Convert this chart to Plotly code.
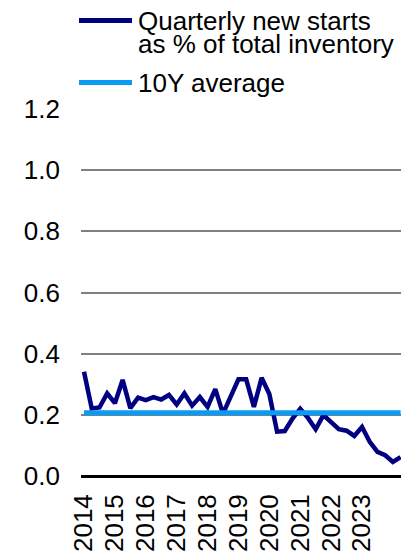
import plotly.graph_objects as go

# Quarterly periods 2014Q1 .. 2024Q2
years = list(range(2014, 2025))
quarters = [f"{y}Q{q}" for y in years for q in range(1, 5)][:42]

# Quarterly new starts as % of total inventory
new_starts = [
    0.341, 0.221, 0.224, 0.270, 0.238, 0.314, 0.222, 0.256,
    0.248, 0.258, 0.250, 0.265, 0.234, 0.270, 0.230, 0.258,
    0.226, 0.284, 0.204, 0.260, 0.316, 0.316, 0.226, 0.321,
    0.268, 0.145, 0.147, 0.188, 0.220, 0.190, 0.153, 0.199,
    0.177, 0.153, 0.148, 0.131, 0.160, 0.112, 0.079, 0.068,
    0.046, 0.062,
]
ten_year_avg = 0.207

tick_years = [str(y) for y in range(2014, 2024)]
tick_quarters = [f"{y}Q1" for y in tick_years]
y_ticks = [0.0, 0.2, 0.4, 0.6, 0.8, 1.0, 1.2]

NAVY = "#000080"
SKY = "#0A9BF5"
FONT = "Liberation Sans, Arial, sans-serif"

W, H = 401, 552
L, R, T, B = 81, 0, 108.5, 76
plot_h = H - T - B
plot_w = W - L - R


def px_x(px):
    return (px - L) / plot_w


def px_y(py):
    return (H - B - py) / plot_h


fig = go.Figure()
fig.add_trace(go.Scatter(
    x=quarters, y=new_starts, mode="lines",
    line=dict(color=NAVY, width=4.5), name="Quarterly new starts",
    showlegend=False,
))
fig.add_trace(go.Scatter(
    x=quarters, y=[ten_year_avg] * len(quarters), mode="lines",
    line=dict(color=SKY, width=5), name="10Y average", showlegend=False,
))

# Legend drawn above the plot
legend_items = [
    (NAVY, 20, ["Quarterly new starts", "as % of total inventory"]),
    (SKY, 82, ["10Y average"]),
]
for color, py, lines in legend_items:
    fig.add_shape(type="line", xref="paper", yref="paper",
                  x0=px_x(79), x1=px_x(132), y0=px_y(py), y1=px_y(py),
                  line=dict(color=color, width=5))
    for k, txt in enumerate(lines):
        fig.add_annotation(xref="paper", yref="paper", x=px_x(136),
                           y=px_y(py + 23 * k), text=txt, showarrow=False,
                           xanchor="left", yanchor="middle",
                           font=dict(size=26, color="black", family=FONT))

fig.update_layout(
    width=W, height=H,
    margin=dict(l=L, r=R, t=T, b=B, pad=0),
    paper_bgcolor="white", plot_bgcolor="white",
    font=dict(family=FONT, size=26, color="black"),
    showlegend=False,
)
fig.update_xaxes(
    type="category", range=[-0.39, 41.05],
    tickmode="array", tickvals=tick_quarters, ticktext=tick_years,
    tickangle=-90, showgrid=False, showline=False, zeroline=False,
    ticks="", ticklabelstandoff=12,
    tickfont=dict(size=26, family=FONT, color="black"),
)
fig.update_yaxes(
    range=[0, 1.2], tickmode="array", tickvals=y_ticks,
    ticktext=[f"{v:.1f}" for v in y_ticks],
    showgrid=True, gridcolor="#808080", gridwidth=1.5,
    zeroline=True, zerolinecolor="black", zerolinewidth=3,
    showline=False, ticks="", ticklabelstandoff=20,
    tickfont=dict(size=26, family=FONT, color="black"),
)

fig.write_html("out.html")
